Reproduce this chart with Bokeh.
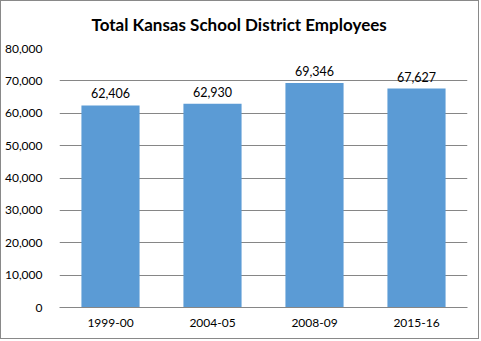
from bokeh.plotting import figure
from bokeh.models import ColumnDataSource, NumeralTickFormatter, FixedTicker, LabelSet
from bokeh.core.properties import value
from bokeh.embed import file_html
from bokeh.resources import INLINE

title_text = "Total Kansas School District Employees"
categories = ["1999-00", "2004-05", "2008-09", "2015-16"]
employees = [62406, 62930, 69346, 67627]
labels = [f"{v:,}" for v in employees]
y_ticks = [0, 10000, 20000, 30000, 40000, 50000, 60000, 70000, 80000]

src = ColumnDataSource(dict(cat=categories, val=employees, lab=labels))

p = figure(x_range=categories, y_range=(0, 80000), width=479, height=339,
           output_backend="svg", toolbar_location=None,
           min_border_left=55, min_border_right=13, min_border_top=10, min_border_bottom=33)
p.styles = {"border": "1px solid #898989"}

p.title.text = title_text
p.title.align = "left"
p.title.offset = 32
p.title.vertical_align = "top"
p.title.text_font = "Lato"
p.title.text_font_size = "17px"
p.title.text_font_style = "bold"
p.title.text_color = "#000000"
p.title.standoff = 24

p.vbar(x="cat", top="val", width=0.57, source=src, color="#5B9BD5", line_color=None)

p.add_layout(LabelSet(x="cat", y="val", text="lab", source=src, text_align="center",
                      text_baseline="bottom", y_offset=7, text_font_size="12.5px",
                      text_font=value("Lato"), text_color="#000000"))

p.yaxis.ticker = FixedTicker(ticks=y_ticks)
p.yaxis.formatter = NumeralTickFormatter(format="0,0")
p.yaxis.axis_line_color = None
p.yaxis.major_tick_line_color = None
p.yaxis.minor_tick_line_color = None
p.yaxis.major_label_text_font = "Lato"
p.yaxis.major_label_text_font_size = "12px"
p.yaxis.major_label_text_color = "#000000"
p.yaxis.major_label_standoff = 11

p.xaxis.axis_line_color = "#868686"
p.xaxis.major_tick_line_color = None
p.xaxis.minor_tick_line_color = None
p.xaxis.major_label_text_font = "Lato"
p.xaxis.major_label_text_font_size = "12px"
p.xaxis.major_label_text_color = "#000000"
p.xaxis.major_label_standoff = 5

p.xgrid.grid_line_color = None
p.ygrid.grid_line_color = "#868686"
p.outline_line_color = None
p.x_range.range_padding = 0

open("out.html", "w").write(file_html(p, INLINE))
